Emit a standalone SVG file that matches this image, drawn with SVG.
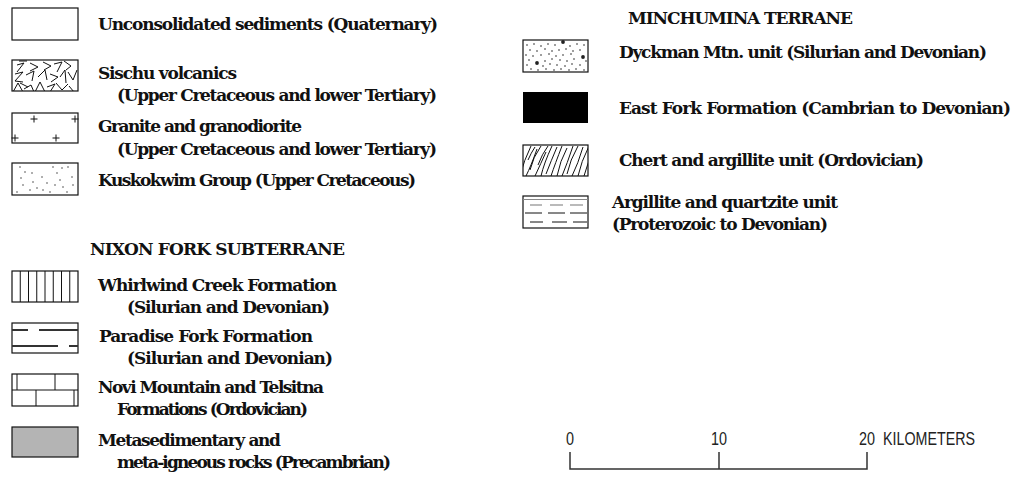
<svg xmlns="http://www.w3.org/2000/svg" width="1013" height="477" viewBox="0 0 1013 477">
<style>
.t{font-family:"DejaVu Serif","Liberation Serif",serif;font-weight:bold;font-size:17px;fill:#111}
.s{font-family:"Liberation Sans",Arial,sans-serif;font-size:18px;fill:#222}
.box{fill:#fff;stroke:#111;stroke-width:1.2}
.ln{fill:none;stroke:#111;stroke-width:1}
.dk{fill:none;stroke:#333;stroke-width:2}
.dot{fill:#222}
</style>
<defs>
<clipPath id="cv"><rect x="12" y="60" width="66" height="31"/></clipPath>
<clipPath id="cc"><rect x="523" y="145" width="65" height="31"/></clipPath>
</defs>
<rect width="1013" height="477" fill="#fff"/>

<g id="unconsolidated">
<rect class="box" x="12" y="8" width="66" height="32"/>
<text class="t" x="98" y="30" textLength="340" lengthAdjust="spacing">Unconsolidated sediments (Quaternary)</text>
</g>

<g id="sischu">
<rect class="box" x="12" y="60" width="66" height="31"/>
<g clip-path="url(#cv)" class="ln">
<polyline points="19,61 27,61"/>
<polyline points="17,65 24,63 17,72"/>
<polyline points="30,63 38,67 30,71"/>
<polyline points="43,62 51,66 44,70"/>
<polyline points="54,64 62,62 57,72"/>
<polyline points="64,61 71,66 66,70"/>
<polyline points="15,74 23,72 15,81 23,82"/>
<polyline points="26,75 34,71 32,81"/>
<polyline points="38,77 45,70 47,80"/>
<polyline points="50,74 58,77 51,82"/>
<polyline points="60,77 65,70 66,83"/>
<polyline points="68,72 73,80 77,70"/>
<polyline points="13,92 18,83 23,92"/>
<polyline points="24,89 31,85 34,92"/>
<polyline points="35,92 40,82 45,92"/>
<polyline points="47,87 55,84 50,92"/>
<polyline points="56,83 62,90 68,84"/>
<polyline points="69,86 74,92"/>
<polyline points="20,83 28,87"/>
</g>
<text class="t" x="98" y="79" textLength="139" lengthAdjust="spacing">Sischu volcanics</text>
<text class="t" x="117" y="101" textLength="320" lengthAdjust="spacing">(Upper Cretaceous and lower Tertiary)</text>
</g>

<g id="granite">
<rect class="box" x="12" y="113" width="66" height="30"/>
<path class="ln" d="M30.5,119H37.5M34,115.5V122.5M71.5,119H78.5M75,115.5V122.5M11.5,138H18.5M15,134.5V141.5M52.5,138H59.5M56,134.5V141.5"/>
<text class="t" x="98" y="132" textLength="204" lengthAdjust="spacing">Granite and granodiorite</text>
<text class="t" x="117" y="155" textLength="320" lengthAdjust="spacing">(Upper Cretaceous and lower Tertiary)</text>
</g>

<g id="kuskokwim">
<rect class="box" x="12" y="163" width="66" height="32"/>
<g class="dot">
<circle cx="20" cy="167" r="0.7"/><circle cx="25" cy="172" r="0.7"/><circle cx="21" cy="178" r="0.7"/><circle cx="23" cy="185" r="0.7"/><circle cx="17" cy="192" r="0.7"/><circle cx="32" cy="173" r="0.7"/><circle cx="33" cy="182" r="0.7"/><circle cx="42" cy="177" r="0.7"/><circle cx="37" cy="188" r="0.7"/><circle cx="47" cy="183" r="0.7"/><circle cx="50" cy="192" r="0.7"/><circle cx="53" cy="167" r="0.7"/><circle cx="57" cy="173" r="0.7"/><circle cx="60" cy="180" r="0.7"/><circle cx="63" cy="187" r="0.7"/><circle cx="67" cy="192" r="0.7"/><circle cx="68" cy="167" r="0.7"/><circle cx="72" cy="177" r="0.7"/><circle cx="73" cy="185" r="0.7"/><circle cx="62" cy="168" r="0.7"/><circle cx="43" cy="190" r="0.7"/><circle cx="30" cy="190" r="0.7"/><circle cx="55" cy="185" r="0.7"/>
</g>
<text class="t" x="98" y="186" textLength="318" lengthAdjust="spacing">Kuskokwim Group (Upper Cretaceous)</text>
</g>

<g id="nixon-header">
<text class="t" x="90" y="255" textLength="255" lengthAdjust="spacing">NIXON FORK SUBTERRANE</text>
</g>

<g id="whirlwind">
<rect class="box" x="12" y="271" width="66" height="31"/>
<path class="ln" d="M20.25,271V302M28.5,271V302M36.75,271V302M45,271V302M53.25,271V302M61.5,271V302M69.75,271V302"/>
<text class="t" x="98" y="291" textLength="239" lengthAdjust="spacing">Whirlwind Creek Formation</text>
<text class="t" x="127" y="313" textLength="203" lengthAdjust="spacing">(Silurian and Devonian)</text>
</g>

<g id="paradise">
<rect class="box" x="12" y="323" width="66" height="30"/>
<path class="dk" d="M12,330H28M39,330H78M12,346H58M69,346H78"/>
<text class="t" x="99" y="342" textLength="214" lengthAdjust="spacing">Paradise Fork Formation</text>
<text class="t" x="127" y="364" textLength="206" lengthAdjust="spacing">(Silurian and Devonian)</text>
</g>

<g id="novi">
<rect class="box" x="12" y="374" width="66" height="32"/>
<path class="ln" d="M12,390H78M17,374V390M55,374V390M36,390V406M74,390V406"/>
<text class="t" x="98" y="393" textLength="226" lengthAdjust="spacing">Novi Mountain and Telsitna</text>
<text class="t" x="117" y="415" textLength="191" lengthAdjust="spacing">Formations (Ordovician)</text>
</g>

<g id="metasedimentary">
<rect class="box" x="12" y="427" width="66" height="30" style="fill:#b4b4b4"/>
<text class="t" x="98" y="446" textLength="183" lengthAdjust="spacing">Metasedimentary and</text>
<text class="t" x="117" y="468" textLength="274" lengthAdjust="spacing">meta-igneous rocks (Precambrian)</text>
</g>

<g id="minchumina-header">
<text class="t" x="628" y="24" textLength="225" lengthAdjust="spacing">MINCHUMINA TERRANE</text>
</g>

<g id="dyckman">
<rect class="box" x="523" y="40" width="65" height="32"/>
<g class="dot">
<circle cx="527" cy="45" r="0.8"/><circle cx="534" cy="44" r="0.8"/><circle cx="541" cy="46" r="0.8"/><circle cx="548" cy="44" r="0.8"/><circle cx="555" cy="45" r="0.8"/><circle cx="570" cy="46" r="0.8"/><circle cx="577" cy="44" r="0.8"/><circle cx="584" cy="45" r="0.8"/>
<circle cx="530" cy="50" r="0.8"/><circle cx="537" cy="51" r="0.8"/><circle cx="545" cy="49" r="0.8"/><circle cx="552" cy="51" r="0.8"/><circle cx="559" cy="50" r="0.8"/><circle cx="566" cy="49" r="0.8"/><circle cx="573" cy="51" r="0.8"/><circle cx="580" cy="50" r="0.8"/>
<circle cx="526" cy="55" r="0.8"/><circle cx="533" cy="56" r="0.8"/><circle cx="541" cy="55" r="0.8"/><circle cx="549" cy="54" r="0.8"/><circle cx="556" cy="56" r="0.8"/><circle cx="563" cy="55" r="0.8"/><circle cx="571" cy="54" r="0.8"/>
<circle cx="529" cy="60" r="0.8"/><circle cx="545" cy="61" r="0.8"/><circle cx="552" cy="59" r="0.8"/><circle cx="560" cy="60" r="0.8"/><circle cx="567" cy="61" r="0.8"/><circle cx="574" cy="59" r="0.8"/><circle cx="586" cy="61" r="0.8"/>
<circle cx="527" cy="65" r="0.8"/><circle cx="543" cy="66" r="0.8"/><circle cx="550" cy="64" r="0.8"/><circle cx="557" cy="65" r="0.8"/><circle cx="565" cy="66" r="0.8"/><circle cx="572" cy="64" r="0.8"/><circle cx="580" cy="65" r="0.8"/>
<circle cx="531" cy="69" r="0.8"/><circle cx="538" cy="70" r="0.8"/><circle cx="546" cy="69" r="0.8"/><circle cx="554" cy="70" r="0.8"/><circle cx="561" cy="69" r="0.8"/><circle cx="569" cy="70" r="0.8"/><circle cx="576" cy="69" r="0.8"/><circle cx="584" cy="70" r="0.8"/>
<circle cx="563" cy="42" r="1.9"/><circle cx="537" cy="63" r="1.9"/><circle cx="583" cy="57" r="1.9"/>
</g>
<text class="t" x="619" y="58" textLength="368" lengthAdjust="spacing">Dyckman Mtn. unit (Silurian and Devonian)</text>
</g>

<g id="east-fork">
<rect x="523" y="92" width="65" height="31" fill="#000"/>
<text class="t" x="619" y="114" textLength="392" lengthAdjust="spacing">East Fork Formation (Cambrian to Devonian)</text>
</g>

<g id="chert">
<rect class="box" x="523" y="145" width="65" height="31"/>
<g clip-path="url(#cc)" class="ln">
<path d="M520,176Q524,160 531,146M526,176Q531,166 537,149M530,170Q533,157 541,146M535,176Q541,163 546,152M538,165Q542,154 548,146M541,176Q544,163 552,146M546,174Q551,161 557,147M551,176Q555,164 562,146M557,176Q560,161 567,148M562,176Q567,164 573,146M567,174Q570,160 578,146M572,176Q578,164 583,147M578,176Q581,162 589,146M584,176Q587,166 592,152M528,160Q531,153 535,147"/>
</g>
<text class="t" x="619" y="166" textLength="305" lengthAdjust="spacing">Chert and argillite unit (Ordovician)</text>
</g>

<g id="argillite">
<rect class="box" x="523" y="196" width="65" height="32"/>
<path d="M523,199.5H588" stroke="#888" stroke-width="1"/>
<path d="M530,205H542M550,205H563M570,205H583" stroke="#777" stroke-width="1.2"/>
<path class="ln" d="M525,213H542M548,213H565M570,213H587M530,222H543M552,222H567M573,222H587"/>
<text class="t" x="612" y="208" textLength="226" lengthAdjust="spacing">Argillite and quartzite unit</text>
<text class="t" x="612" y="230" textLength="216" lengthAdjust="spacing">(Proterozoic to Devonian)</text>
</g>

<g id="connectors">
<path d="M570,452V469H867V452M719,452V469" fill="none" stroke="#333" stroke-width="1.5"/>
</g>

<g id="scale-labels">
<text class="s" x="570" y="445" text-anchor="middle" textLength="8" lengthAdjust="spacingAndGlyphs">0</text>
<text class="s" x="719" y="445" text-anchor="middle" textLength="16" lengthAdjust="spacingAndGlyphs">10</text>
<text class="s" x="859" y="445" textLength="16" lengthAdjust="spacingAndGlyphs">20</text>
<text class="s" x="883" y="445" textLength="92" lengthAdjust="spacingAndGlyphs">KILOMETERS</text>
</g>
</svg>
